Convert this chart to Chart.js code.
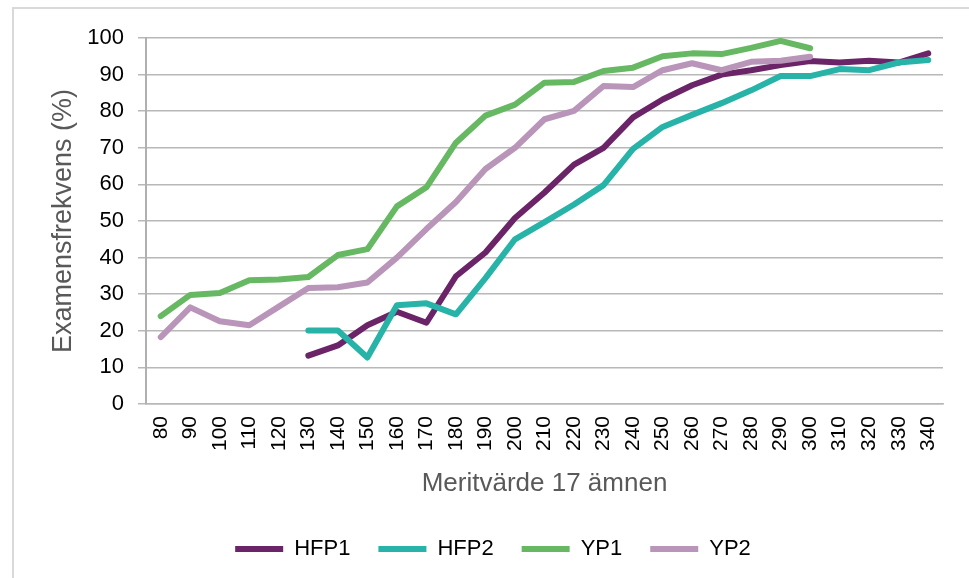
<!DOCTYPE html>
<html>
<head>
<meta charset="utf-8">
<script src="https://cdn.jsdelivr.net/npm/chart.js@4"></script>
<style>
  html, body { margin: 0; padding: 0; background: #fff; overflow: hidden; }
  #frame { position: absolute; left: 12px; top: 7px; width: 1000px; height: 700px; border: 2px solid #d9d9d9; }
  #wrap { position: absolute; left: 0; top: 0; width: 969px; height: 578px; }
</style>
</head>
<body>
<div id="frame"></div>
<div id="wrap"><canvas id="chart"></canvas></div>
<script>
// Meritvärde categories
let meritLabels = [80, 90, 100, 110, 120, 130, 140, 150, 160, 170, 180, 190, 200, 210, 220, 230, 240, 250, 260, 270, 280, 290, 300, 310, 320, 330, 340];

let hfp1 = [null, null, null, null, null, 13.2, 16.0, 21.5, 25.2, 22.2, 34.9, 41.4, 50.8, 57.8, 65.4, 70.0, 78.3, 83.2, 87.1, 90.0, 91.2, 92.6, 93.7, 93.3, 93.8, 93.3, 95.8];
let hfp2 = [null, null, null, null, null, 20.1, 20.1, 12.7, 27.0, 27.5, 24.5, 34.4, 45.0, 49.7, 54.5, 59.8, 69.7, 75.7, 79.0, 82.2, 85.7, 89.6, 89.6, 91.5, 91.2, 93.3, 94.0];
let yp1 = [24.0, 29.8, 30.3, 33.8, 34.0, 34.7, 40.7, 42.3, 54.0, 59.2, 71.4, 78.8, 81.8, 87.8, 88.0, 91.0, 91.9, 95.0, 95.8, 95.6, 97.3, 99.2, 97.2, null, null, null, null];
let yp2 = [18.3, 26.4, 22.6, 21.5, 26.6, 31.7, 31.9, 33.2, 40.0, 47.8, 55.2, 64.2, 70.0, 77.8, 80.1, 86.9, 86.6, 91.2, 93.1, 91.2, 93.5, 93.8, 94.9, null, null, null, null];

let seriesNames = ['HFP1', 'HFP2', 'YP1', 'YP2'];
let seriesColors = ['#6a2467', '#27b3a7', '#67b862', '#b995b9'];

let fontFamily = '"Liberation Sans", Arial, sans-serif';
let gridColor = '#b8b8b8';

function makeDataset(i, values) {
    return {
        label: seriesNames[i],
        data: values,
        borderColor: seriesColors[i],
        backgroundColor: seriesColors[i],
        borderWidth: 6,
        borderCapStyle: 'round',
        borderJoinStyle: 'round',
        pointRadius: 0,
        pointHoverRadius: 0,
        tension: 0,
        fill: false,
        // later series painted on top, like the original
        order: 4 - i
    };
}

let ctx = document.getElementById('chart').getContext('2d');

let chart = new Chart(ctx, {
    type: 'line',
    data: {
        labels: meritLabels,
        datasets: [
            makeDataset(0, hfp1),
            makeDataset(1, hfp2),
            makeDataset(2, yp1),
            makeDataset(3, yp2)
        ]
    },
    options: {
        responsive: true,
        maintainAspectRatio: false,
        animation: false,
        layout: {
            padding: { left: 43, right: 26, top: 38, bottom: 8 }
        },
        plugins: {
            tooltip: { enabled: false },
            legend: {
                display: true,
                position: 'bottom',
                labels: {
                    usePointStyle: true,
                    pointStyle: 'line',
                    pointStyleWidth: 48,
                    padding: 28,
                    color: '#000',
                    font: { family: fontFamily, size: 22 },
                    sort: (a, b) => a.datasetIndex - b.datasetIndex
                }
            }
        },
        scales: {
            x: {
                type: 'category',
                offset: true,
                grid: { display: false, drawTicks: false },
                border: { display: true, color: gridColor, width: 1.5 },
                ticks: {
                    autoSkip: false,
                    minRotation: 90,
                    maxRotation: 90,
                    padding: 12,
                    color: '#000',
                    font: { family: fontFamily, size: 21 }
                },
                title: {
                    display: true,
                    text: 'Meritvärde 17 ämnen',
                    color: '#595959',
                    padding: { top: 4, bottom: 11 },
                    font: { family: fontFamily, size: 26 }
                },
                afterFit: function (scale) {
                    scale.height = 106;
                }
            },
            y: {
                min: 0,
                max: 100,
                ticks: {
                    stepSize: 10,
                    padding: 14,
                    color: '#000',
                    font: { family: fontFamily, size: 22 }
                },
                grid: {
                    color: gridColor,
                    lineWidth: 1.5,
                    tickLength: 8,
                    tickColor: gridColor
                },
                border: { display: true, color: '#b0b0b0', width: 2 },
                title: {
                    display: true,
                    text: 'Examensfrekvens (%)',
                    color: '#595959',
                    padding: { top: 4, bottom: 4 },
                    font: { family: fontFamily, size: 27 }
                },
                afterFit: function (scale) {
                    scale.width = 103;
                }
            }
        }
    }
});
</script>
</body>
</html>
